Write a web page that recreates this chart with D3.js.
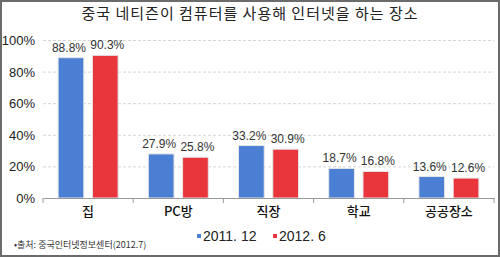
<!DOCTYPE html>
<html>
<head>
<meta charset="utf-8">
<script src="https://cdn.jsdelivr.net/npm/d3@7"></script>
<style>
  body { margin: 0; background: #fff; }
  svg { display: block; font-family: "Noto Sans CJK KR", "Noto Sans", sans-serif; }
</style>
</head>
<body>
<div id="chart"></div>
<script>
var categories = ["집", "PC방", "직장", "학교", "공공장소"];
var series = ["2011. 12", "2012. 6"];
var values2011 = [88.8, 27.9, 33.2, 18.7, 13.6];
var values2012 = [90.3, 25.8, 30.9, 16.8, 12.6];
var yTicks = [0, 20, 40, 60, 80, 100];
var colors = ["#4a7fd4", "#e8363c"];

var width = 500, height = 257;

var svg = d3.select("#chart").append("svg")
  .attr("width", width).attr("height", height);

svg.append("rect").attr("x", 1).attr("y", 1).attr("width", width - 2).attr("height", height - 2)
  .attr("fill", "#fff").attr("stroke", "#6b6b6b").attr("stroke-width", 2);

svg.append("text").attr("x", 250).attr("y", 19).attr("text-anchor", "middle")
  .style("font-size", "15px").style("letter-spacing", "1px").attr("fill", "#222")
  .text("중국 네티즌이 컴퓨터를 사용해 인터넷을 하는 장소");

var x = d3.scaleBand().domain(categories).range([43, 494]);
var x1 = d3.scaleBand().domain(series).range([0, 60]).paddingInner(0.25);
var y = d3.scaleLinear().domain([0, 100]).range([198, 40]);

// gridlines
svg.append("g").selectAll("line").data(yTicks.filter(function(d) { return d > 0; })).enter().append("line")
  .attr("x1", 43).attr("x2", 494)
  .attr("y1", function(d) { return y(d) + 0.5; }).attr("y2", function(d) { return y(d) + 0.5; })
  .attr("stroke", "#d6d6d6").attr("stroke-dasharray", "3,2");

// y labels
svg.append("g").selectAll("text").data(yTicks).enter().append("text")
  .attr("x", 35).attr("y", function(d) { return y(d) + 5; })
  .attr("text-anchor", "end").style("font-size", "13px").attr("fill", "#222")
  .style("font-family", "Liberation Sans, Arial, sans-serif")
  .text(function(d) { return d + "%"; });

var data = categories.map(function(c, i) {
  return { cat: c, vals: [{ s: series[0], v: values2011[i], c: colors[0] }, { s: series[1], v: values2012[i], c: colors[1] }] };
});

var groups = svg.append("g").selectAll("g").data(data).enter().append("g")
  .attr("transform", function(d) { return "translate(" + (x(d.cat) + x.bandwidth() / 2 - 30) + ",0)"; });

groups.selectAll("rect").data(function(d) { return d.vals; }).enter().append("rect")
  .attr("x", function(d) { return x1(d.s); })
  .attr("width", x1.bandwidth())
  .attr("y", function(d) { return y(d.v); })
  .attr("height", function(d) { return y(0) - y(d.v); })
  .attr("fill", function(d) { return d.c; })
  .attr("stroke", "#e6e6e6").attr("stroke-width", 1);

groups.selectAll("text").data(function(d) { return d.vals; }).enter().append("text")
  .attr("x", function(d, i) { return x1(d.s) + x1.bandwidth() / 2 + (i === 0 ? -2 : 2); })
  .attr("y", function(d) { return y(d.v) - 6; })
  .attr("text-anchor", "middle").style("font-size", "12px").attr("fill", "#333")
  .style("font-family", "Liberation Sans, Arial, sans-serif")
  .text(function(d) { return d.v.toFixed(1) + "%"; });

// x axis
var xAxis = svg.append("g").attr("transform", "translate(0,198)")
  .call(d3.axisBottom(x).tickSize(0).tickPadding(9));
xAxis.select(".domain").attr("stroke", "#9a9a9a");
xAxis.selectAll("text").style("font-size", "13px").style("font-weight", "500").attr("fill", "#111")
  .style("font-family", "Noto Sans CJK KR, sans-serif");
svg.append("g").selectAll("line").data(d3.range(categories.length + 1)).enter().append("line")
  .attr("x1", function(i) { return 43 + i * x.step(); }).attr("x2", function(i) { return 43 + i * x.step(); })
  .attr("y1", 198).attr("y2", 203).attr("stroke", "#9a9a9a");

// legend
var legend = svg.append("g").selectAll("g").data(series).enter().append("g")
  .attr("transform", function(d, i) { return "translate(" + (197 + i * 76) + ",236)"; });
legend.append("rect").attr("x", 0).attr("y", -2).attr("width", 4).attr("height", 4)
  .attr("fill", function(d, i) { return colors[i]; });
legend.append("text").attr("x", 6).attr("y", 5).style("font-size", "14px").attr("fill", "#222")
  .style("font-family", "Liberation Sans, Arial, sans-serif")
  .text(function(d) { return d; });

svg.append("text").attr("x", 14).attr("y", 248).style("font-size", "9px").attr("fill", "#333")
  .text("•출처: 중국인터넷정보센터(2012.7)");
</script>
</body>
</html>
